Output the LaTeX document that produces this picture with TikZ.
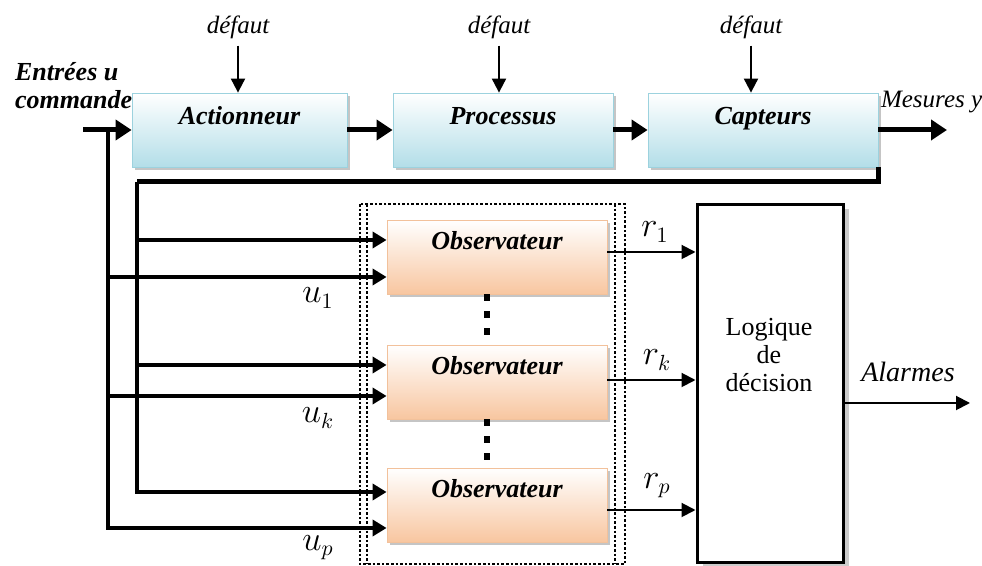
\documentclass[tikz,border=0pt]{standalone}
\usepackage{fontspec}
\setmainfont{Liberation Serif}
\usetikzlibrary{arrows.meta,shadows,positioning}
\definecolor{bleuclair}{HTML}{B3DEE8}
\definecolor{bordbleu}{HTML}{9CD2DE}
\definecolor{orangeclair}{HTML}{F8C6A0}
\definecolor{bordorange}{HTML}{F2C19B}
\begin{document}
\begin{tikzpicture}[x=0.5pt,y=-0.5pt,
    titre/.style={font=\fontsize{13}{15}\selectfont\bfseries\itshape},
    bloc/.style={titre,draw=bordbleu,top color=white,bottom color=bleuclair,minimum height=37pt,text height=9pt,text depth=14pt,drop shadow={shadow xshift=1.5pt,shadow yshift=-1.5pt,fill=black!45}},
    obs/.style={titre,draw=bordorange,top color=white,bottom color=orangeclair,minimum width=110pt,minimum height=37pt,text height=9pt,text depth=16pt,drop shadow={shadow xshift=1.5pt,shadow yshift=-1.5pt,fill=black!45}},
    gros/.style={line width=2.5pt,-{Triangle[length=8pt,width=10pt]}},
    moyen/.style={line width=2pt,-{Triangle[length=7pt,width=8pt]}},
    fin/.style={line width=1pt,-{Triangle[length=7pt,width=7pt]}},
    lbl/.style={font=\fontsize{12.5}{14}\selectfont\itshape},
    sig/.style={font=\fontsize{16}{18}\selectfont}]
    \useasboundingbox (0,0) rectangle (982,566);
    % chaine principale
    \node[bloc,minimum width=107.5pt] (act) at (239.5,130) {Actionneur};
    \node[bloc,minimum width=110pt] (proc) at (503,130) {Processus};
    \node[bloc,minimum width=115pt] (capt) at (763,130) {Capteurs};
    \node[lbl] (d1) at (238,27) {défaut};
    \node[lbl] (d2) at (499,27) {défaut};
    \node[lbl] (d3) at (751,27) {défaut};
    \draw[fin] (d1.south) -- (d1.south |- act.north);
    \draw[fin] (d2.south) -- (d2.south |- proc.north);
    \draw[fin] (d3.south) -- (d3.south |- capt.north);
    \node[titre,align=left,anchor=west,font=\fontsize{13}{14}\selectfont\bfseries\itshape] (entree) at (8,86) {Entrées u\\commande};
    \node[lbl,anchor=west] (mesy) at (874,102) {Mesures y};
    \coordinate (in) at (83,130);
    \coordinate (mes) at (947,130);
    \draw[gros] (in) -- (act.west);
    \draw[gros] (act.east) -- (proc.west);
    \draw[gros] (proc.east) -- (capt.west);
    \draw[gros] (capt.east) -- (mes);
    % banc d'observateurs
    \node[obs] (obs1) at (497,257) {Observateur};
    \node[obs] (obs2) at (497,382) {Observateur};
    \node[obs] (obs3) at (497,505) {Observateur};
    \draw[densely dotted,line width=1.3pt] (360,204) rectangle (625,564);
    \draw[densely dotted,line width=1.3pt] (367,204) -- (367,564) (615,204) -- (615,564);
    \draw[dash pattern=on 3.5pt off 5pt,line width=3pt] ([xshift=-5pt]obs1.south) -- ([xshift=-5pt]obs2.north);
    \draw[dash pattern=on 3.5pt off 5pt,line width=3pt] ([xshift=-5pt]obs2.south) -- ([xshift=-5pt]obs3.north);
    \coordinate (y1) at ([yshift=8.5pt]obs1.west);
    \coordinate (u1) at ([yshift=-10pt]obs1.west);
    \coordinate (yk) at ([yshift=8.5pt]obs2.west);
    \coordinate (uk) at ([yshift=-7pt]obs2.west);
    \coordinate (yp) at ([yshift=6.5pt]obs3.west);
    \coordinate (up) at ([yshift=-11.5pt]obs3.west);
    \coordinate (ub) at (108,130);
    \coordinate (yb) at (137,182);
    % bus des entrees u
    \draw[moyen] (ub) |- (up);
    \draw[moyen] (ub |- u1) -- (u1);
    \draw[moyen] (ub |- uk) -- (uk);
    % bus des mesures y
    \draw[line width=2.5pt] (capt.south east) |- (yb);
    \draw[moyen] (yb) |- (yp);
    \draw[moyen] (yb |- y1) -- (y1);
    \draw[moyen] (yb |- yk) -- (yk);
    \node[sig] (lu1) at (318,298) {$u_1$};
    \node[sig] (luk) at (318,418) {$u_k$};
    \node[sig] (lup) at (318,548) {$u_p$};
    % logique de decision
    \node[draw,line width=1.5pt,minimum width=73pt,minimum height=179pt,fill=white,drop shadow={shadow xshift=3pt,shadow yshift=-2pt,fill=black!40}] (dec) at (770,384) {};
    \node[align=center,font=\fontsize{13}{14}\selectfont] (declbl) at (769,355) {Logique\\de\\décision};
    \draw[fin] ([yshift=2.5pt]obs1.east) -- ([yshift=2.5pt]obs1.east -| dec.west);
    \draw[fin] ([yshift=1pt]obs2.east) -- ([yshift=1pt]obs2.east -| dec.west);
    \draw[fin] ([yshift=-2.5pt]obs3.east) -- ([yshift=-2.5pt]obs3.east -| dec.west);
    \node[sig] (lr1) at (655,232) {$r_1$};
    \node[sig] (lrk) at (657,360) {$r_k$};
    \node[sig] (lrp) at (657,486) {$r_p$};
    \coordinate (alm) at (970,403);
    \draw[fin] (dec.east |- alm) -- (alm);
    \node[font=\fontsize{14}{16}\selectfont\itshape] (alarmes) at (908,372) {Alarmes};
\end{tikzpicture}
\end{document}
